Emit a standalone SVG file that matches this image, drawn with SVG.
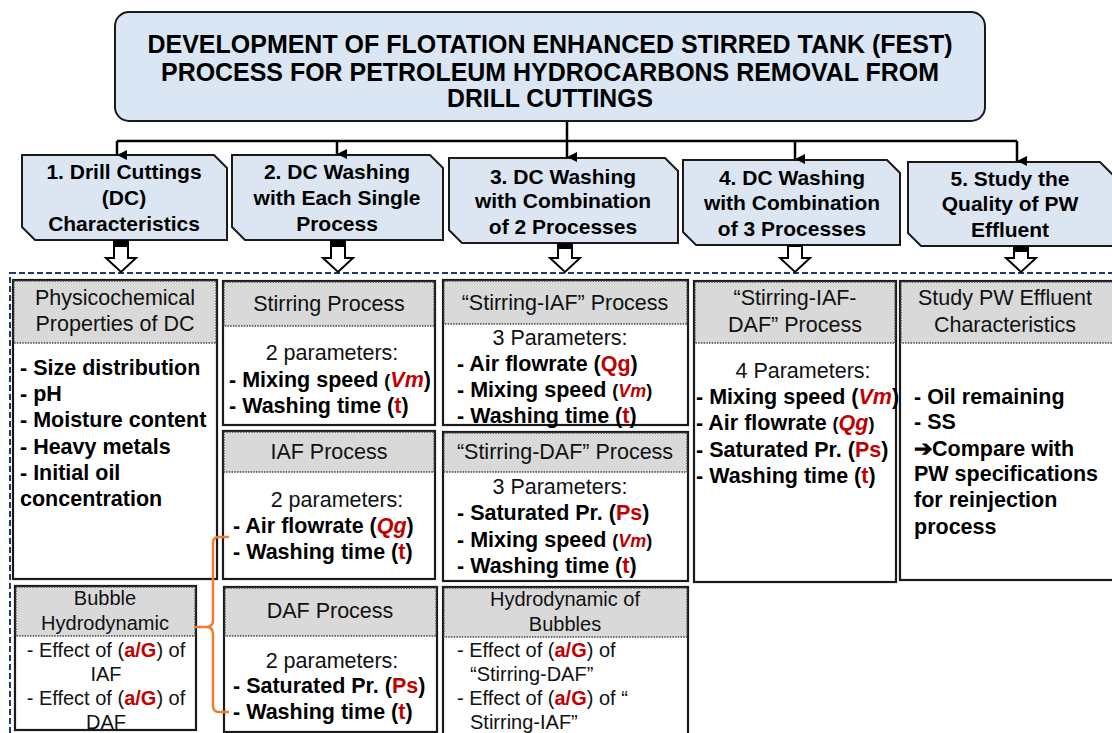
<svg xmlns="http://www.w3.org/2000/svg" width="1112" height="733" viewBox="0 0 1112 733">
  <defs>
    <marker id="tip" viewBox="0 0 10 10" refX="5" refY="10" markerWidth="10" markerHeight="10" markerUnits="userSpaceOnUse" orient="auto-start-reverse">
      <path d="M0,0 L10,0 L5,10 Z" fill="#000"/>
    </marker>
    <style>
      .title{font-family:"Liberation Sans Narrow","Liberation Sans",Arial,sans-serif;font-weight:bold;font-size:25px;fill:#000}
      .hd{font-family:"Liberation Sans",Arial,sans-serif;font-weight:bold;font-size:21px;fill:#000;text-anchor:middle}
      .snip{fill:#DCE6F2;stroke:#1a1a1a;stroke-width:2}
      .box{fill:#fff;stroke:#1a1a1a;stroke-width:2.2}
      .cap{fill:#D9D9D9;stroke:#444;stroke-width:1.3;stroke-dasharray:1.5 1.2}
      .ct{font-family:"Liberation Sans",Arial,sans-serif;font-size:21.5px;fill:#111;text-anchor:middle}
      .sm{font-family:"Liberation Sans",Arial,sans-serif;font-size:20px;fill:#111}
      .b{font-family:"Liberation Sans",Arial,sans-serif;font-size:21.5px;font-weight:bold;fill:#000}
      .r{fill:#C00000;font-weight:bold}
      .ri{fill:#C00000;font-weight:bold;font-style:italic}
      .p{font-size:18px}
      .blk{fill:#fff;stroke:#000;stroke-width:2}
      .wire{fill:none;stroke:#000;stroke-width:2.5}
    </style>
  </defs>

  <rect width="1112" height="733" fill="#fff"/>

  <!-- main title -->
  <g id="title">
    <rect x="115" y="12" width="870" height="109" rx="14" fill="#DAE6F3" stroke="#1a1a1a" stroke-width="2"/>
    <text class="title" x="550" y="53" text-anchor="middle" textLength="805" lengthAdjust="spacingAndGlyphs">DEVELOPMENT OF FLOTATION ENHANCED STIRRED TANK (FEST)</text>
    <text class="title" x="550" y="81" text-anchor="middle" textLength="778" lengthAdjust="spacingAndGlyphs">PROCESS FOR PETROLEUM HYDROCARBONS REMOVAL FROM</text>
    <text class="title" x="550" y="107" text-anchor="middle" textLength="206" lengthAdjust="spacingAndGlyphs">DRILL CUTTINGS</text>
  </g>

  <!-- dashed frame around the study blocks -->
  <rect x="10" y="273" width="1110" height="470" fill="none" stroke="#1F3A6E" stroke-width="2" stroke-dasharray="6 3"/>

  <!-- stage headers -->
  <g id="stage1">
    <path class="snip" d="M22,155 H214 L227,168 V240 H35 L22,227 Z"/>
    <text class="hd" x="124" y="179">1. Drill Cuttings</text>
    <text class="hd" x="124" y="205">(DC)</text>
    <text class="hd" x="124" y="231">Characteristics</text>
  </g>
  <g id="stage2">
    <path class="snip" d="M232,155 H430 L443,168 V240 H245 L232,227 Z"/>
    <text class="hd" x="337" y="179">2. DC Washing</text>
    <text class="hd" x="337" y="205">with Each Single</text>
    <text class="hd" x="337" y="231">Process</text>
  </g>
  <g id="stage3">
    <path class="snip" d="M449,158 H665 L678,171 V243 H462 L449,230 Z"/>
    <text class="hd" x="563" y="184">3. DC Washing</text>
    <text class="hd" x="563" y="208">with Combination</text>
    <text class="hd" x="563" y="234">of 2 Processes</text>
  </g>
  <g id="stage4">
    <path class="snip" d="M683,160 H887 L900,173 V245 H696 L683,232 Z"/>
    <text class="hd" x="792" y="185">4. DC Washing</text>
    <text class="hd" x="792" y="210">with Combination</text>
    <text class="hd" x="792" y="236">of 3 Processes</text>
  </g>
  <g id="stage5">
    <path class="snip" d="M908,162 H1100 L1113,175 V246 H921 L908,233 Z"/>
    <text class="hd" x="1010" y="186">5. Study the</text>
    <text class="hd" x="1010" y="211">Quality of PW</text>
    <text class="hd" x="1010" y="237">Effluent</text>
  </g>

  <!-- column 1 -->
  <g id="physicochemical">
    <rect class="box" x="13" y="280" width="204" height="299"/>
    <rect class="cap" x="14" y="281" width="202" height="62"/>
    <text class="ct" x="115" y="305">Physicochemical</text>
    <text class="ct" x="115" y="331">Properties of DC</text>
    <text class="b" x="20" y="375">- Size distribution</text>
    <text class="b" x="20" y="401">- pH</text>
    <text class="b" x="20" y="427">- Moisture content</text>
    <text class="b" x="20" y="454">- Heavy metals</text>
    <text class="b" x="20" y="480">- Initial oil</text>
    <text class="b" x="20" y="506">concentration</text>
  </g>
  <g id="bubble-hydrodynamic">
    <rect class="box" x="15" y="586" width="181" height="144"/>
    <rect class="cap" x="16" y="587" width="179" height="49"/>
    <text class="sm" x="105" y="605" text-anchor="middle">Bubble</text>
    <text class="sm" x="105" y="630" text-anchor="middle">Hydrodynamic</text>
    <text class="sm" x="106" y="657" text-anchor="middle">- Effect of (<tspan class="r">a/G</tspan>) of</text>
    <text class="sm" x="106" y="681" text-anchor="middle">IAF</text>
    <text class="sm" x="106" y="705" text-anchor="middle">- Effect of (<tspan class="r">a/G</tspan>) of</text>
    <text class="sm" x="106" y="729" text-anchor="middle">DAF</text>
  </g>

  <!-- column 2 -->
  <g id="stirring">
    <rect class="box" x="223" y="281" width="212" height="144"/>
    <rect class="cap" x="224" y="282" width="210" height="44"/>
    <text class="ct" x="329" y="311">Stirring Process</text>
    <text class="ct" x="332" y="360">2 parameters:</text>
    <text class="b" x="229" y="387">- Mixing speed <tspan class="p">(</tspan><tspan class="ri">Vm</tspan>)</text>
    <text class="b" x="229" y="413">- Washing time (<tspan class="r">t</tspan>)</text>
  </g>
  <g id="iaf">
    <rect class="box" x="223" y="431" width="212" height="148"/>
    <rect class="cap" x="224" y="432" width="210" height="40"/>
    <text class="ct" x="329" y="459">IAF Process</text>
    <text class="ct" x="337" y="507">2 parameters:</text>
    <text class="b" x="233" y="533">- Air flowrate (<tspan class="ri">Qg</tspan>)</text>
    <text class="b" x="233" y="559">- Washing time (<tspan class="r">t</tspan>)</text>
  </g>
  <g id="daf">
    <rect class="box" x="224" y="587" width="213" height="145"/>
    <rect class="cap" x="225" y="588" width="211" height="48"/>
    <text class="ct" x="330" y="618">DAF Process</text>
    <text class="ct" x="332" y="668">2 parameters:</text>
    <text class="b" x="233" y="693">- Saturated Pr. (<tspan class="r">Ps</tspan>)</text>
    <text class="b" x="233" y="719">- Washing time (<tspan class="r">t</tspan>)</text>
  </g>

  <!-- column 3 -->
  <g id="stirring-iaf">
    <rect class="box" x="443" y="280" width="245" height="145"/>
    <rect class="cap" x="444" y="281" width="243" height="43"/>
    <text class="ct" x="565" y="310">“Stirring-IAF”  Process</text>
    <text class="ct" x="560" y="345">3 Parameters:</text>
    <text class="b" x="457" y="371">- Air flowrate (<tspan class="r">Qg</tspan>)</text>
    <text class="b" x="457" y="397">- Mixing speed <tspan class="p">(</tspan><tspan class="ri" font-size="18">Vm</tspan><tspan class="p">)</tspan></text>
    <text class="b" x="457" y="423">- Washing time (<tspan class="r">t</tspan>)</text>
  </g>
  <g id="stirring-daf">
    <rect class="box" x="443" y="432" width="245" height="149"/>
    <rect class="cap" x="444" y="433" width="243" height="39"/>
    <text class="ct" x="565" y="459">“Stirring-DAF”  Process</text>
    <text class="ct" x="560" y="494">3 Parameters:</text>
    <text class="b" x="457" y="520">- Saturated Pr. (<tspan class="r">Ps</tspan>)</text>
    <text class="b" x="457" y="547">- Mixing speed <tspan class="p">(</tspan><tspan class="ri" font-size="18">Vm</tspan><tspan class="p">)</tspan></text>
    <text class="b" x="457" y="573">- Washing time (<tspan class="r">t</tspan>)</text>
  </g>
  <g id="bubbles-hydrodynamic">
    <rect class="box" x="443" y="587" width="245" height="150"/>
    <rect class="cap" x="444" y="588" width="243" height="49"/>
    <text class="sm" x="565" y="606" text-anchor="middle">Hydrodynamic of</text>
    <text class="sm" x="565" y="631" text-anchor="middle">Bubbles</text>
    <text class="sm" x="457" y="657">- Effect of (<tspan class="r">a/G</tspan>) of</text>
    <text class="sm" x="470" y="681">“Stirring-DAF”</text>
    <text class="sm" x="457" y="705">- Effect of (<tspan class="r">a/G</tspan>) of “</text>
    <text class="sm" x="470" y="729">Stirring-IAF”</text>
  </g>

  <!-- column 4 -->
  <g id="stirring-iaf-daf">
    <rect class="box" x="694" y="281" width="202" height="301"/>
    <rect class="cap" x="695" y="282" width="200" height="61"/>
    <text class="ct" x="795" y="305">“Stirring-IAF-</text>
    <text class="ct" x="795" y="332">DAF”  Process</text>
    <text class="ct" x="803" y="378">4 Parameters:</text>
    <text class="b" x="696" y="404">- Mixing speed (<tspan class="ri">Vm</tspan>)</text>
    <text class="b" x="696" y="430">- Air flowrate <tspan class="p">(</tspan><tspan class="ri">Qg</tspan><tspan class="p">)</tspan></text>
    <text class="b" x="696" y="457">- Saturated Pr. (<tspan class="r">Ps</tspan>)</text>
    <text class="b" x="696" y="483">- Washing time (<tspan class="r">t</tspan>)</text>
  </g>

  <!-- column 5 -->
  <g id="pw-effluent">
    <rect class="box" x="900" y="281" width="220" height="299"/>
    <rect class="cap" x="901" y="282" width="218" height="61"/>
    <text class="ct" x="1005" y="305">Study  PW Effluent</text>
    <text class="ct" x="1005" y="332">Characteristics</text>
    <text class="b" x="914" y="404">- Oil remaining</text>
    <text class="b" x="914" y="429">- SS</text>
    <text class="b" x="914" y="456">➔Compare with</text>
    <text class="b" x="914" y="481">PW specifications</text>
    <text class="b" x="914" y="507">for reinjection</text>
    <text class="b" x="914" y="534">process</text>
  </g>

  <!-- connectors -->
  <g id="connectors">
    <path class="wire" d="M567,122 V146"/>
    <path class="wire" d="M117,141 H1017"/>
    <path class="wire" d="M117,141 V155" marker-end="url(#tip)"/>
    <path class="wire" d="M337,141 V154" marker-end="url(#tip)"/>
    <path class="wire" d="M567,146 V157" marker-end="url(#tip)"/>
    <path class="wire" d="M795,141 V159" marker-end="url(#tip)"/>
    <path class="wire" d="M1017,141 V161" marker-end="url(#tip)"/>
    <!-- hollow block arrows -->
    <path class="blk" d="M114,241 H128 V258 H136 L121,272 L106,258 H114 Z"/>
    <rect x="114" y="240" width="14" height="7" fill="#000"/>
    <path class="blk" d="M331,241 H345 V258 H353 L338,272 L323,258 H331 Z"/>
    <rect x="331" y="240" width="14" height="7" fill="#000"/>
    <path class="blk" d="M558,244 H572 V258 H580 L565,272 L550,258 H558 Z"/>
    <rect x="558" y="243" width="14" height="6" fill="#000"/>
    <path class="blk" d="M788,246 H802 V258 H810 L795,272 L780,258 H788 Z"/>
    <path class="blk" d="M1014,247 H1028 V258 H1036 L1021,272 L1006,258 H1014 Z"/>
    <rect x="1014" y="246" width="14" height="6" fill="#000"/>
    <!-- orange bracket -->
    <path d="M229,537 H219 Q213,537 213,543 V620 Q213,627 206,627 H194 M206,627 Q213,627 213,634 V706 Q213,712 219,712 H229" fill="none" stroke="#ED7D31" stroke-width="2.5"/>
  </g>
</svg>
